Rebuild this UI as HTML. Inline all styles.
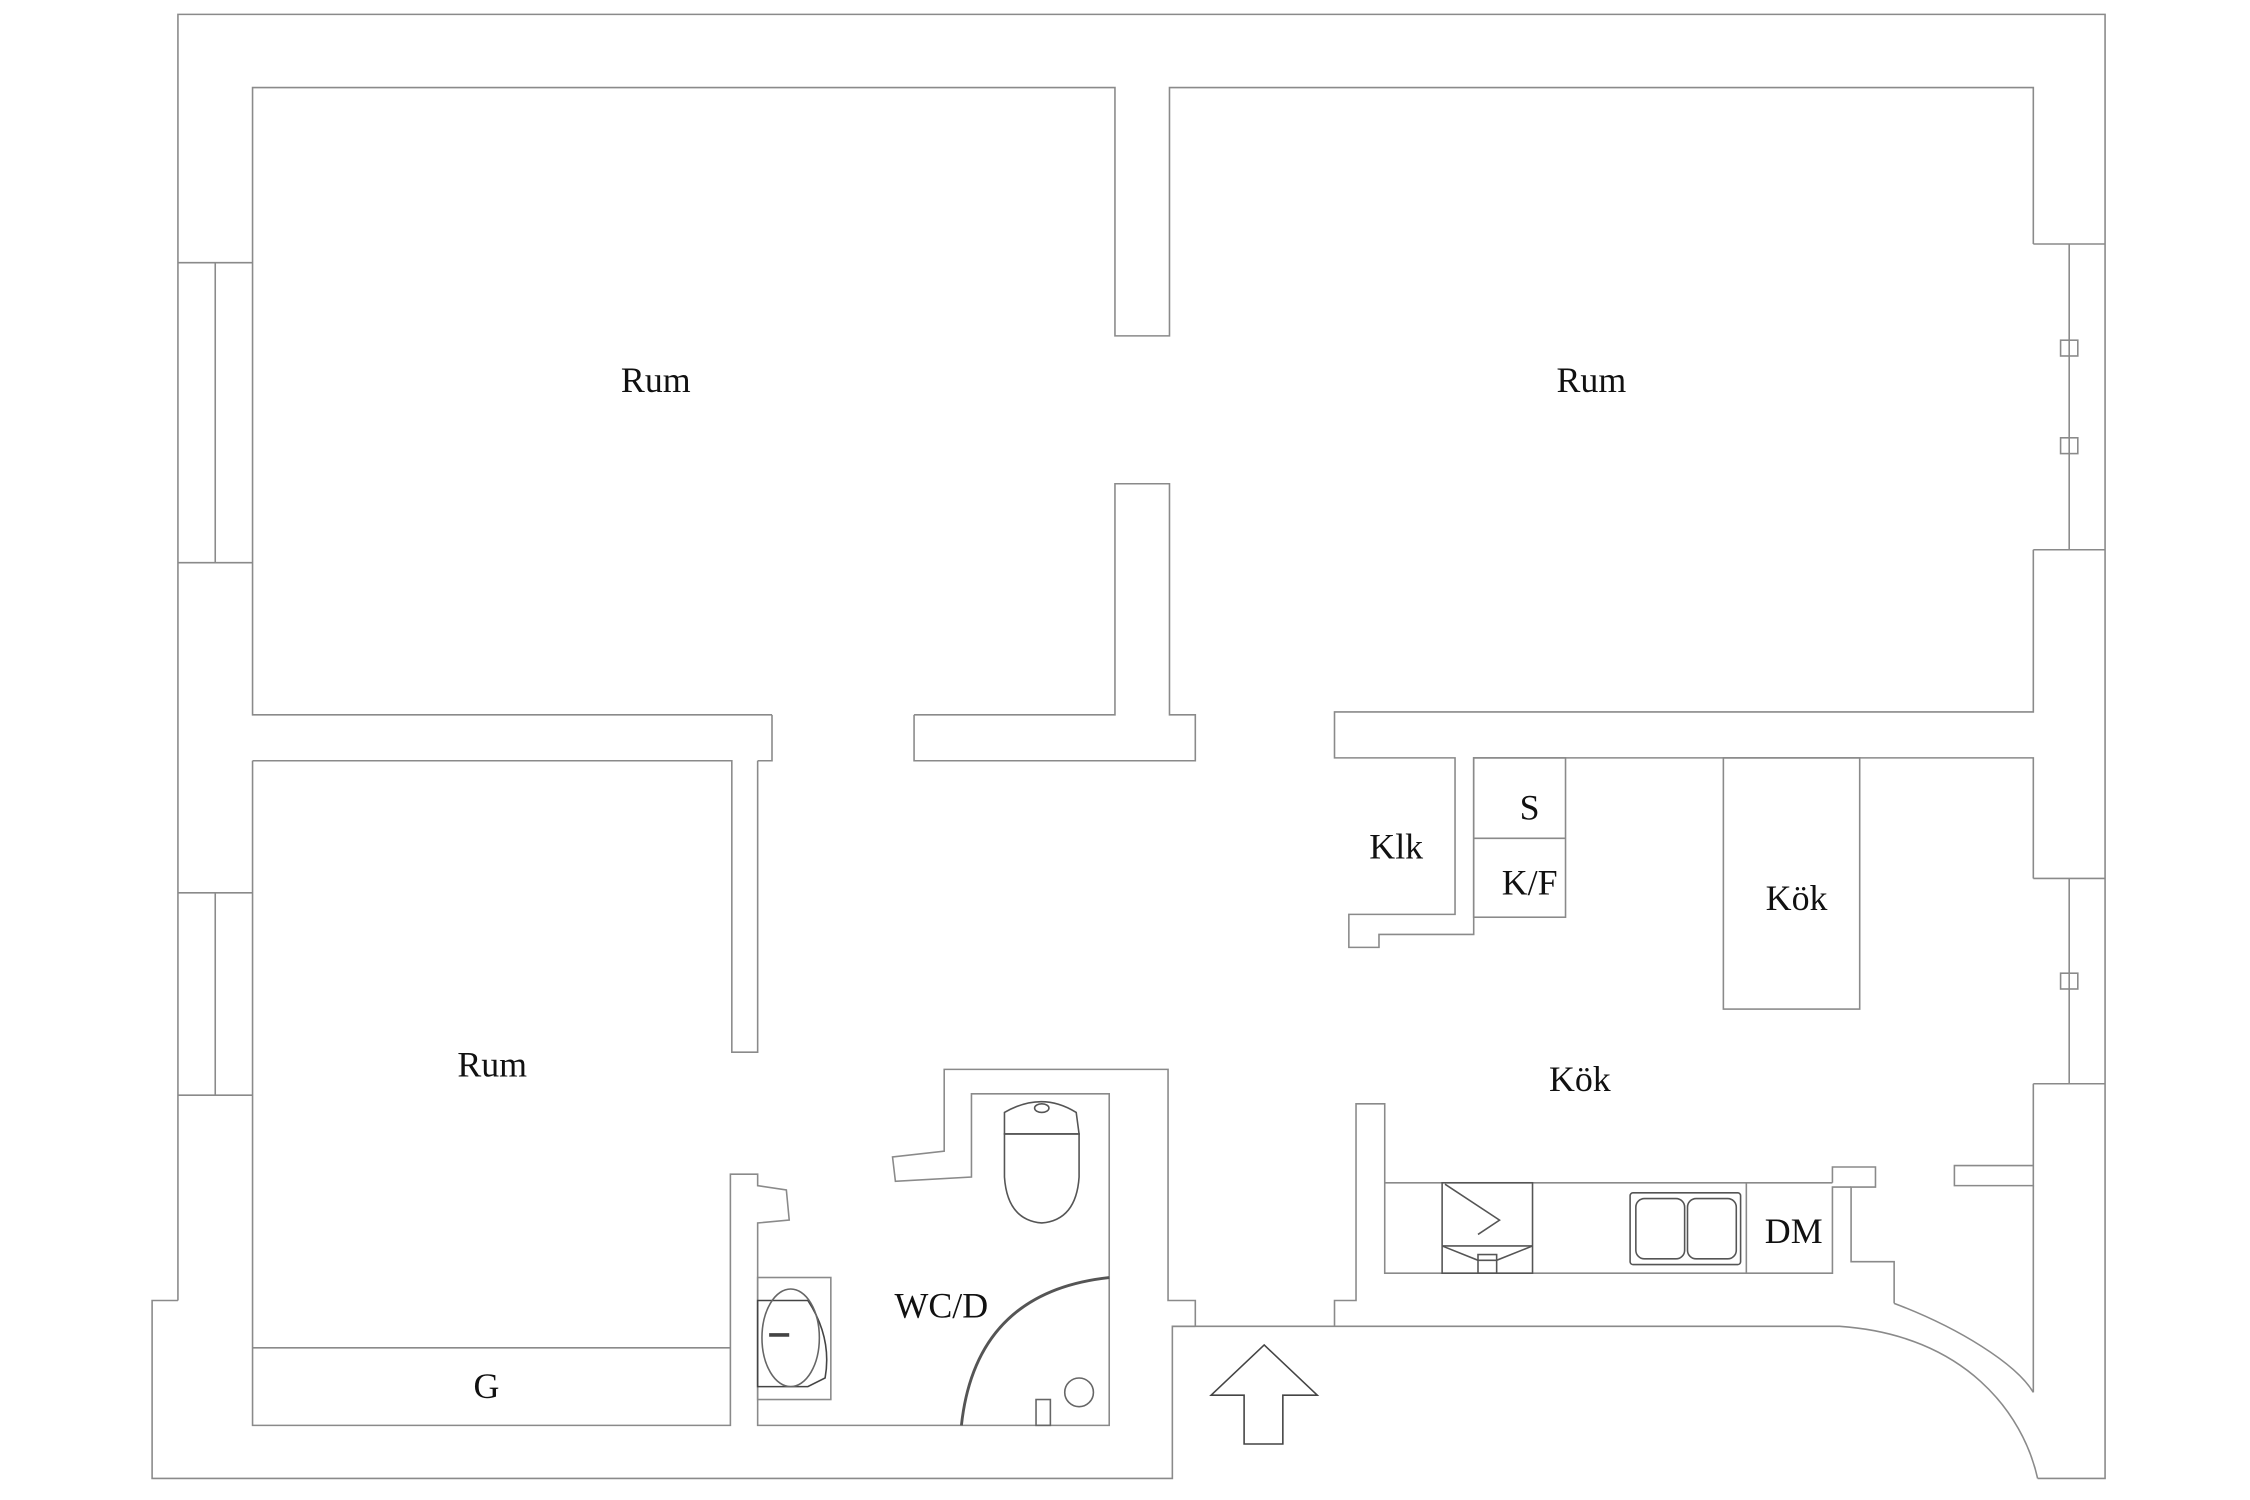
<!DOCTYPE html>
<html><head><meta charset="utf-8"><style>
html,body{margin:0;padding:0;background:#fff}
svg{display:block}
text{font-family:"Liberation Serif",serif;font-size:25px;fill:#111;text-anchor:middle}
</style></head><body>
<svg width="2250" height="1500" viewBox="0 0 1568 1045" preserveAspectRatio="none" xmlns="http://www.w3.org/2000/svg">
<g fill="none" stroke="#8a8a8a" stroke-width="1.1">
<polyline points="124,906 124,10 1467,10 1467,1030 1420,1030"/>
<polyline points="124,906 106,906 106,1030 817,1030 817,924 833,924"/>
<path d="M817,924 L1282,924 C1370,930 1410,985 1420,1030"/>
<path d="M1320,908 C1365,925 1405,950 1417,970"/>
<polyline points="124,183 176,183"/><polyline points="124,392 176,392"/><line x1="150" y1="183" x2="150" y2="392"/>
<polyline points="124,622 176,622"/><polyline points="124,763 176,763"/><line x1="150" y1="622" x2="150" y2="763"/>
<polyline points="538,498 176,498 176,61 777,61 777,234 815,234 815,61 1417,61 1417,170"/>
<polyline points="538,498 538,530 528,530"/>
<polyline points="1417,170 1467,170"/><polyline points="1417,383 1467,383"/><line x1="1442" y1="170" x2="1442" y2="383"/>
<rect x="1436" y="237" width="12" height="11"/><rect x="1436" y="305" width="12" height="11"/>
<polyline points="1417,383 1417,496 930,496 930,528 1014,528 1014,637 940,637 940,660 961,660 961,651 1027,651 1027,528 1417,528 1417,612"/>
<rect x="1027" y="528" width="64" height="111"/><line x1="1027" y1="584" x2="1091" y2="584"/>
<rect x="1201" y="528" width="95" height="175"/>
<polyline points="1417,612 1467,612"/><polyline points="1417,755 1467,755"/><line x1="1442" y1="612" x2="1442" y2="755"/>
<rect x="1436" y="678" width="12" height="11"/>
<polyline points="1417,755 1417,826 1362,826 1362,812 1417,812"/>
<line x1="1417" y1="826" x2="1417" y2="970"/>
<polyline points="637,498 777,498 777,337 815,337 815,498 833,498 833,530 637,530 637,498"/>
<polyline points="176,530 510,530 510,733 528,733 528,530"/>
<polyline points="176,530 176,993 509,993 509,818 528,818 528,826 548,829 550,850 528,852 528,993 773,993 773,762 677,762 677,820 624,823 622,806 658,802 658,745 814,745 814,906 833,906 833,924"/>
<line x1="176" y1="939" x2="509" y2="939"/>
<rect x="528" y="890" width="51" height="85"/>
<path d="M528,906 L563,906 Q580,932 575,960 L563,966 L528,966 Z" stroke="#444"/>
<ellipse cx="551" cy="932" rx="20" ry="34" stroke="#666"/>
<line x1="536" y1="930" x2="550" y2="930" stroke="#444" stroke-width="2.5"/>
<path d="M700,775 Q726,760 750,775 L752,790 L700,790 Z" stroke="#555"/>
<path d="M700,790 L752,790 L752,820 Q750,850 726,852 Q702,850 700,820 Z" stroke="#555"/>
<ellipse cx="726" cy="772" rx="5" ry="3" stroke="#555"/>
<path d="M670,993 Q680,900 773,890" stroke="#555" stroke-width="2"/>
<circle cx="752" cy="970" r="10" stroke="#666"/>
<rect x="722" y="975" width="10" height="18" stroke="#666"/>
<polyline points="930,924 930,906 945,906 945,769 965,769 965,887 1277,887 1277,827 1290,827"/>
<polyline points="1277,824 965,824"/>
<polyline points="1277,824 1277,813 1307,813 1307,827 1290,827 1290,879 1320,879 1320,908"/>
<line x1="1217" y1="824" x2="1217" y2="887"/>
<rect x="1005" y="824" width="63" height="63" stroke="#555"/>
<polyline points="1005,868 1068,868" stroke="#555"/>
<polyline points="1005,868 1030,878 1043,878 1068,868" stroke="#555"/>
<rect x="1030" y="874" width="13" height="13" stroke="#555"/>
<polyline points="1007,825 1045,850 1030,860" stroke="#555"/>
<rect x="1136" y="831" width="77" height="50" rx="2" stroke="#555"/>
<rect x="1140" y="835" width="34" height="42" rx="6" stroke="#555"/>
<rect x="1176" y="835" width="34" height="42" rx="6" stroke="#555"/>
<polygon points="881,937 918,972 894,972 894,1006 867,1006 867,972 844,972" stroke="#444"/>
</g>
<text x="457" y="273">Rum</text>
<text x="1109" y="273">Rum</text>
<text x="343" y="750">Rum</text>
<text x="339" y="974">G</text>
<text x="656" y="918">WC/D</text>
<text x="973" y="598">Klk</text>
<text x="1066" y="571">S</text>
<text x="1066" y="623">K/F</text>
<text x="1252" y="634">Kök</text>
<text x="1101" y="760">Kök</text>
<text x="1250" y="866">DM</text>
</svg>
</body></html>
